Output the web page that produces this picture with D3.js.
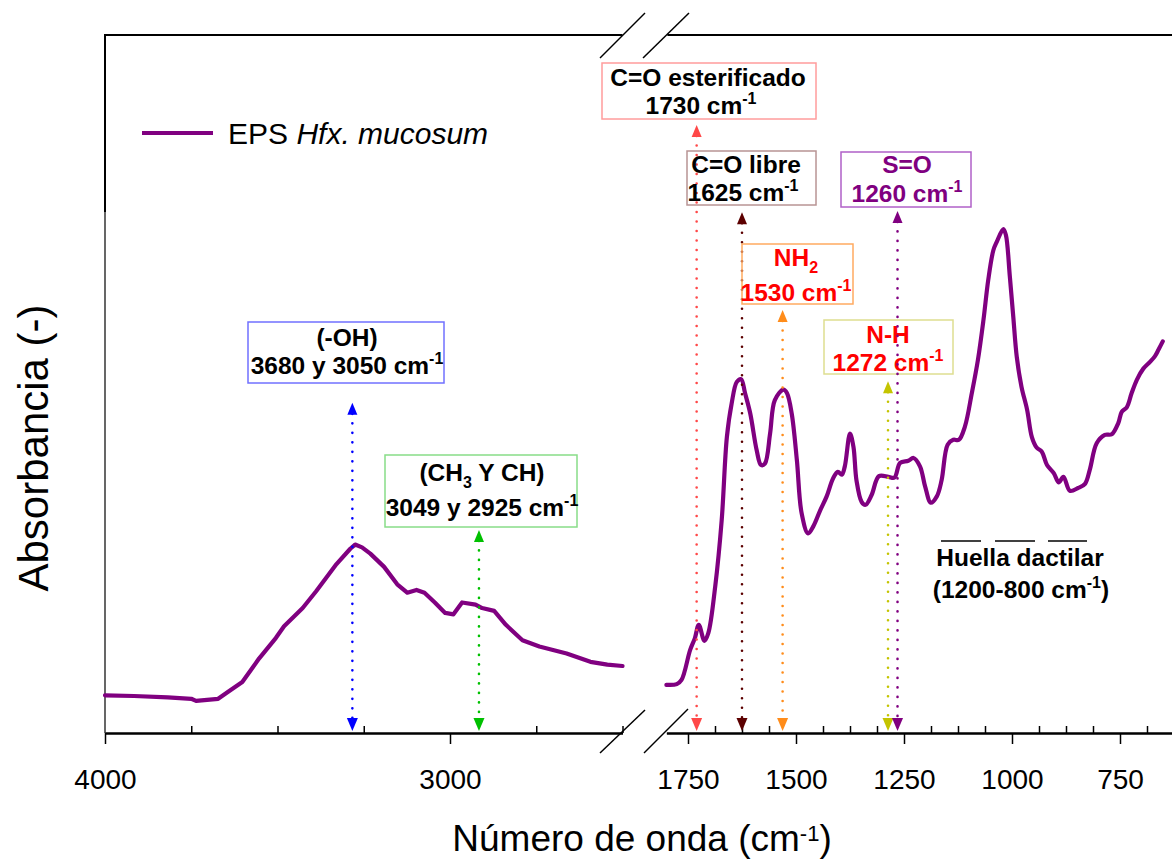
<!DOCTYPE html>
<html><head><meta charset="utf-8">
<script src="https://cdn.jsdelivr.net/npm/d3@7"></script>
<style>
html,body{margin:0;padding:0;background:#fff;}
svg{display:block;font-family:"Liberation Sans",Arial,sans-serif;}
</style></head>
<body>
<svg id="chart" width="1172" height="861"></svg>
<script>
// ---------- DATA ----------
const wnLeft  = [4000,3916,3818,3750,3736,3672,3643,3602,3553,3505,3481,3427,3388,3329,3289,3275,3255,3231,3191,3153,3124,3097,3074,3044,3014,2990,2965,2926,2907,2872,2838,2790,2741,2662,2593,2544,2500];
const absLeft = [0.054,0.053,0.051,0.049,0.046,0.049,0.059,0.073,0.107,0.136,0.153,0.179,0.203,0.242,0.264,0.270,0.266,0.257,0.238,0.213,0.201,0.205,0.201,0.187,0.172,0.170,0.187,0.184,0.179,0.175,0.155,0.133,0.124,0.114,0.102,0.098,0.096];

const wnRight  = [1800,1776,1765,1745,1734,1725,1712,1703,1687,1672,1660,1649,1637,1627,1618,1606,1591,1581,1572,1560,1549,1529,1521,1510,1498,1487,1472,1460,1444,1429,1414,1403,1394,1387,1375,1367,1360,1348,1339,1325,1308,1286,1272,1259,1240,1228,1213,1201,1188,1174,1163,1149,1136,1123,1109,1093,1079,1066,1055,1043,1035,1020,1014,1005,997,989,978,965,954,943,931,919,903,892,881,866,847,831,820,804,785,769,754,746,734,723,711,696,680,669,661,651];
const absRight = [0.069,0.070,0.076,0.119,0.136,0.155,0.132,0.143,0.210,0.305,0.424,0.472,0.503,0.507,0.487,0.458,0.405,0.384,0.386,0.429,0.477,0.492,0.487,0.458,0.391,0.315,0.286,0.296,0.319,0.339,0.365,0.374,0.370,0.382,0.429,0.410,0.362,0.331,0.327,0.341,0.368,0.367,0.366,0.387,0.390,0.394,0.382,0.353,0.330,0.339,0.362,0.413,0.420,0.420,0.439,0.487,0.534,0.592,0.649,0.692,0.704,0.722,0.713,0.654,0.596,0.539,0.496,0.463,0.424,0.409,0.403,0.384,0.372,0.359,0.367,0.347,0.351,0.357,0.377,0.415,0.427,0.428,0.444,0.460,0.467,0.487,0.506,0.522,0.532,0.540,0.549,0.561];

const leftMajorTicks  = [4000,3000];
const leftMinorTicks  = [3750,3500,3250,2750,2500];
const rightMajorTicks = [1750,1500,1250,1000,750];
const rightMinorTicks = [1687.5,1625,1562.5,1437.5,1375,1312.5,1187.5,1125,1062.5,937.5,875,812.5,687.5];

// annotations: wavenumber of arrow, top value of arrow, text lines
const annWn  = [3283, 2916, 1730, 1625, 1531, 1287, 1265];
const annTop = [0.473, 0.291, 0.871, 0.746, 0.606, 0.504, 0.748];
const annLine1 = [
  [["(-OH)"]],
  [["(CH"],["3","sub"],[" Y CH)"]],
  [["C=O esterificado"]],
  [["C=O libre"]],
  [["NH"],["2","sub"]],
  [["N-H"]],
  [["S=O"]]
];
const annLine2 = [
  [["3680 y 3050 cm"],["-1","sup"]],
  [["3049 y 2925 cm"],["-1","sup"]],
  [["1730 cm"],["-1","sup"]],
  [["1625 cm"],["-1","sup"]],
  [["1530 cm"],["-1","sup"]],
  [["1272 cm"],["-1","sup"]],
  [["1260 cm"],["-1","sup"]]
];
const seriesName = ["EPS ", "Hfx. mucosum"];

// ---------- LAYOUT / STYLE ----------
const Y0 = 733, Y1 = 35;
const annBox = [ // x0,y0,x1,y1, cx1,base1, cx2,base2
  [248,322,444,383, 347,346, 347,374],
  [385,455,577,527, 482,481, 482,516],
  [602,63,816,119, 708,86, 701,114],
  [687,151,816,205, 746,173, 743,201],
  [742,244,853,304, 796,266, 796,301],
  [824,320,953,374, 888,343, 888,371],
  [841,152,971,207, 907,173, 907,202]
];
const annArrowColor = ["#0000ff","#00c000","#ff4848","#5c0000","#ff8c1a","#c4c400","#800080"];
const annBoxColor   = ["#7070ff","#88dd88","#ff9c9c","#b89494","#ffaa60","#dede90","#b060c8"];
const annTextColor  = ["#000","#000","#000","#000","#ff0000","#ff0000","#800080"];
const curveColor = "#800080";
const annFont = 24.5;

const svg = d3.select("#chart");
const y  = d3.scaleLinear().domain([0,1]).range([Y0, Y1]);
const xL = d3.scaleLinear().domain([4000,2500]).range([105, 622.5]);
const xR = d3.scaleLinear().domain([1800,630]).range([666.4, 666.4 + 1170*0.432]);

// frame: top line, left spine
svg.append("line").attr("x1",105).attr("x2",xL(2500)).attr("y1",Y1).attr("y2",Y1).attr("stroke","#000").attr("stroke-width",2);
svg.append("line").attr("x1",xR(1800)+1).attr("x2",1172).attr("y1",Y1).attr("y2",Y1).attr("stroke","#000").attr("stroke-width",2);
svg.append("line").attr("x1",105).attr("x2",105).attr("y1",Y1-1).attr("y2",Y0).attr("stroke","#000").attr("stroke-width",1.2);
svg.append("line").attr("x1",105).attr("x2",105).attr("y1",Y1-1).attr("y2",212).attr("stroke","#000").attr("stroke-width",2);

// axes
function drawAxis(scale, majors, minors){
  const gMin = svg.append("g").attr("transform",`translate(0,${Y0})`)
    .call(d3.axisBottom(scale).tickValues(minors).tickSize(-7).tickSizeOuter(0).tickFormat(""));
  gMin.select(".domain").attr("stroke-width",2);
  gMin.selectAll(".tick line").attr("stroke-width",1.5);
  const gMaj = svg.append("g").attr("transform",`translate(0,${Y0})`)
    .call(d3.axisBottom(scale).tickValues(majors).tickSize(11).tickSizeOuter(0).tickPadding(25).tickFormat(d3.format("d")));
  gMaj.select(".domain").attr("stroke-width",2);
  gMaj.selectAll(".tick line").attr("stroke-width",1.5);
  gMaj.selectAll(".tick text").attr("font-size",28).attr("fill","#000")
      .attr("font-family","'Liberation Sans',Arial,sans-serif");
}
drawAxis(xL, leftMajorTicks, leftMinorTicks);
drawAxis(xR, rightMajorTicks, rightMinorTicks);

// break marks
const brk = [[600,58,645,13],[643,58,689,13],[600,753,645,710],[644,753,688,709]];
svg.selectAll(".brk").data(brk).enter().append("line")
  .attr("x1",d=>d[0]).attr("y1",d=>d[1]).attr("x2",d=>d[2]).attr("y2",d=>d[3])
  .attr("stroke","#000").attr("stroke-width",1.5);

// curves
const lineL = d3.line().x(d=>xL(d[0])).y(d=>y(d[1]));
const lineR = d3.line().x(d=>xR(d[0])).y(d=>y(d[1])).curve(d3.curveCatmullRom.alpha(0.5));
svg.append("path").attr("d", lineL(d3.zip(wnLeft, absLeft)))
  .attr("fill","none").attr("stroke",curveColor).attr("stroke-width",4.2).attr("stroke-linejoin","round").attr("stroke-linecap","round");
svg.append("path").attr("d", lineR(d3.zip(wnRight, absRight)))
  .attr("fill","none").attr("stroke",curveColor).attr("stroke-width",4.2).attr("stroke-linejoin","round").attr("stroke-linecap","round");

// annotations
function addSegs(textSel, segs, small){
  let shift = 0;
  segs.forEach(s=>{
    const ts = textSel.append("tspan").text(s[0]);
    let target = 0;
    if (s[1]==="sub") target = 7;
    if (s[1]==="sup") target = -10;
    ts.attr("dy", target - shift);
    shift = target;
    if (s[1]) ts.attr("font-size", small || 16);
  });
}
annWn.forEach((w,i)=>{
  const sc = w > 2000 ? xL : xR;
  const xa = sc(w), ytop = y(annTop[i]), ybot = Y0 - 2;
  const c = annArrowColor[i];
  svg.append("line").attr("x1",xa).attr("x2",xa).attr("y1",ytop+11).attr("y2",ybot-11)
    .attr("stroke",c).attr("stroke-width",2.6).attr("stroke-dasharray","0 9.5").attr("stroke-linecap","round");
  svg.append("path").attr("d",`M${xa},${ytop} L${xa-5},${ytop+12} L${xa+5},${ytop+12} Z`).attr("fill",c);
  svg.append("path").attr("d",`M${xa},${ybot} L${xa-5.5},${ybot-13} L${xa+5.5},${ybot-13} Z`).attr("fill",c);
  const b = annBox[i];
  svg.append("rect").attr("x",b[0]).attr("y",b[1]).attr("width",b[2]-b[0]).attr("height",b[3]-b[1])
    .attr("fill","none").attr("stroke",annBoxColor[i]).attr("stroke-width",1.5);
  const t1 = svg.append("text").attr("x",b[4]).attr("y",b[5]).attr("text-anchor","middle")
    .attr("font-size",annFont).attr("font-weight","bold").attr("fill",annTextColor[i]);
  addSegs(t1, annLine1[i]);
  const t2 = svg.append("text").attr("x",b[6]).attr("y",b[7]).attr("text-anchor","middle")
    .attr("font-size",annFont).attr("font-weight","bold").attr("fill",annTextColor[i]);
  addSegs(t2, annLine2[i]);
});

// fingerprint region note
[[941,981],[995,1035],[1048,1087]].forEach(s=>{
  svg.append("line").attr("x1",s[0]).attr("x2",s[1]).attr("y1",541).attr("y2",541).attr("stroke","#000").attr("stroke-width",1.5);
});
svg.append("text").attr("x",1020).attr("y",566).attr("text-anchor","middle").attr("font-size",annFont).attr("font-weight","bold").text("Huella dactilar");
const fp = svg.append("text").attr("x",1021).attr("y",598).attr("text-anchor","middle").attr("font-size",annFont).attr("font-weight","bold");
addSegs(fp, [["(1200-800 cm"],["-1","sup"],[")"]]);

// legend
svg.append("line").attr("x1",142).attr("x2",213).attr("y1",133).attr("y2",133).attr("stroke",curveColor).attr("stroke-width",4.2);
const lg = svg.append("text").attr("x",228).attr("y",144).attr("font-size",30).attr("fill","#000");
lg.append("tspan").text(seriesName[0]);
lg.append("tspan").attr("font-style","italic").text(seriesName[1]);

// axis titles
svg.append("text").attr("transform","translate(48,448) rotate(-90)").attr("text-anchor","middle")
  .attr("font-size",42).attr("fill","#000").text("Absorbancia (-)");
const xt = svg.append("text").attr("x",642).attr("y",851).attr("text-anchor","middle").attr("font-size",37).attr("fill","#000");
addSegs(xt, [["Número de onda (cm"],["-1","sup"],[")"]], 22);
</script>
</body></html>
